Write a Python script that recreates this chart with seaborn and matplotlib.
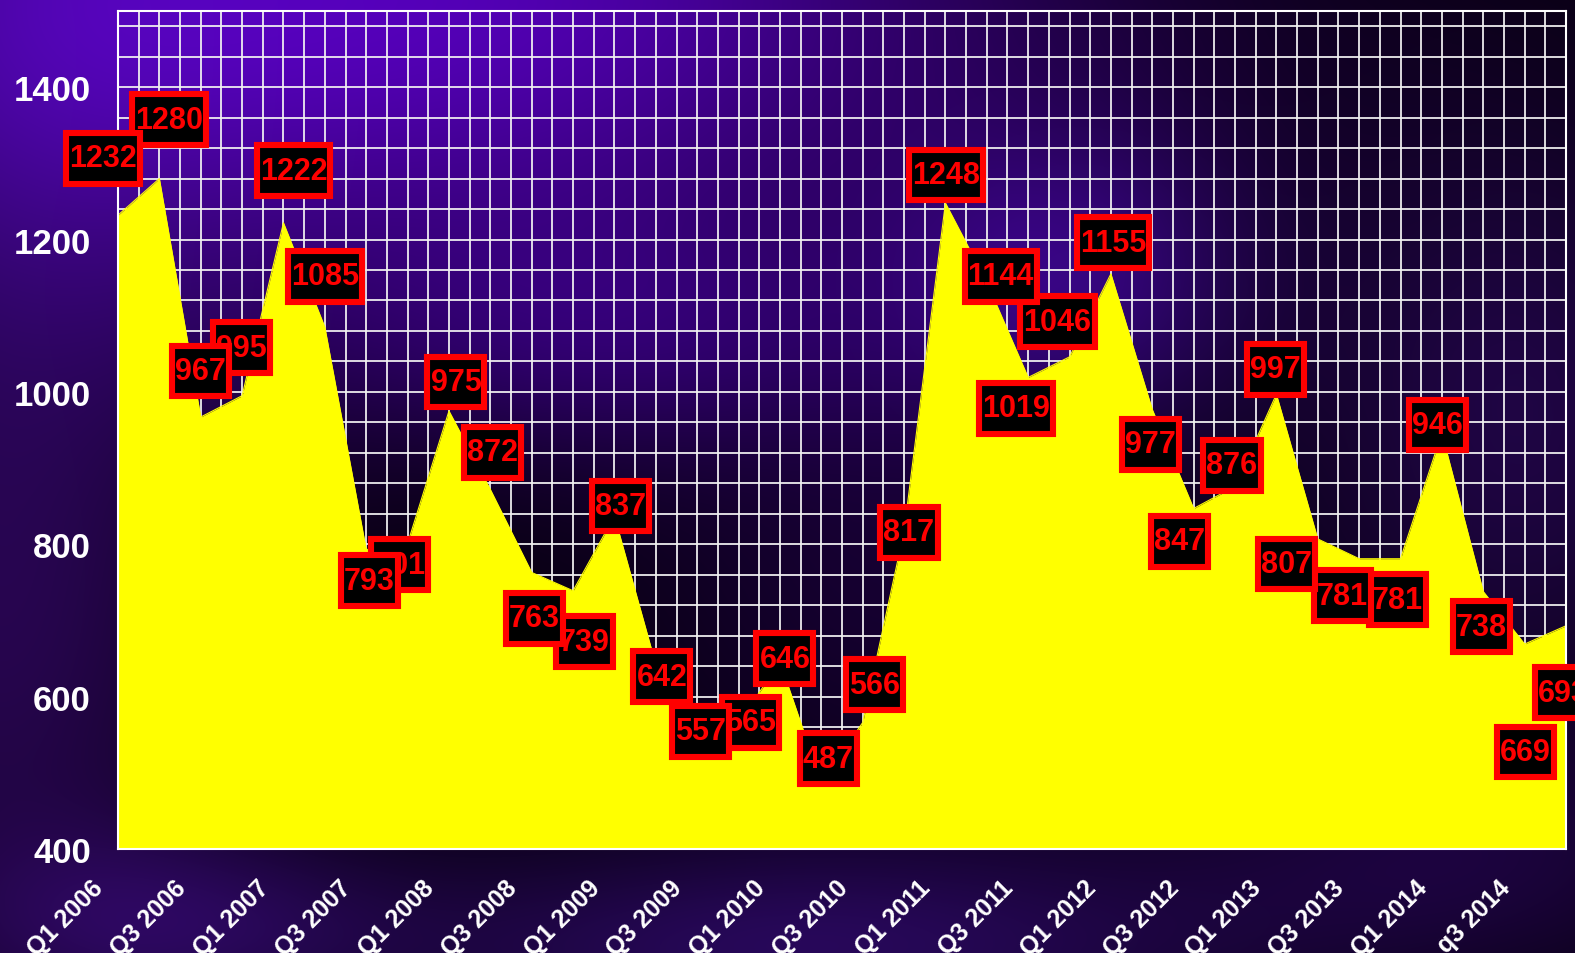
import numpy as np
import matplotlib
matplotlib.use("Agg")
import matplotlib.pyplot as plt
import matplotlib.transforms as mtransforms
from matplotlib.path import Path
import seaborn as sns

# ----- data -----
quarters = ["Q1 2006", "Q2 2006", "Q3 2006", "Q4 2006",
            "Q1 2007", "Q2 2007", "Q3 2007", "Q4 2007",
            "Q1 2008", "Q2 2008", "Q3 2008", "Q4 2008",
            "Q1 2009", "Q2 2009", "Q3 2009", "Q4 2009",
            "Q1 2010", "Q2 2010", "Q3 2010", "Q4 2010",
            "Q1 2011", "Q2 2011", "Q3 2011", "Q4 2011",
            "Q1 2012", "Q2 2012", "Q3 2012", "Q4 2012",
            "Q1 2013", "Q2 2013", "Q3 2013", "Q4 2013",
            "Q1 2014", "Q2 2014", "Q3 2014", "Q4 2014"]
values = [1232, 1280, 967, 995, 1222, 1085, 793, 801,
          975, 872, 763, 739, 837, 642, 557, 565,
          646, 487, 566, 817, 1248, 1144, 1019, 1046,
          1155, 977, 847, 876, 997, 807, 781, 781,
          946, 738, 669, 693]
tick_labels = ["Q1 2006", "Q3 2006", "Q1 2007", "Q3 2007", "Q1 2008", "Q3 2008",
               "Q1 2009", "Q3 2009", "Q1 2010", "Q3 2010", "Q1 2011", "Q3 2011",
               "Q1 2012", "Q3 2012", "Q1 2013", "Q3 2013", "Q1 2014", "q3 2014"]

# data label placement, pixels from the point (right, up) - hand placed as in the original
label_dx = [-15, 10, 0, -1, 10, 0, 3, -8, 7, 2, 3, 11, 6, 6, 3, 12, 5, 7,
            12, 5, 1, 14, -12, -12, 2, -2, -14, -3, -1, -31, -17, -3, -4, -2, 1, -3]
label_dy = [57, 59, 46, 48, 52, 51, -31, -21, 29, 37, -46, -51, 10, -12, -2, 1, 3, 24,
            38, -1, 28, 6, -31, 35, 31, -35, -33, 21, 25, -25, -37, -41, 8, -35, -108, -67]

W, H = 1575, 954
sns.set_style("white")
plt.rcParams["font.family"] = ["Liberation Sans", "DejaVu Sans"]
plt.rcParams["font.weight"] = "bold"

fig = plt.figure(figsize=(W / 100, H / 100), dpi=100)

# ----- purple backdrop -----
yy, xx = np.mgrid[0:H, 0:W]
img = np.ones((H, W, 3)) * np.array([0.02, 0.0, 0.04])
blobs = [  # cx, cy, sx, sy, rgb
    (430, 0, 430, 210, (0.30, 0.00, 0.66)),
    (0, 0, 200, 300, (0.10, 0.02, 0.22)),
    (0, 650, 160, 260, (0.12, 0.02, 0.24)),
    (620, 340, 230, 90, (0.10, 0.00, 0.24)),
    (1070, 280, 130, 110, (0.14, 0.02, 0.34)),
    (1520, 420, 160, 220, (0.10, 0.02, 0.22)),
    (800, 950, 320, 80, (0.13, 0.03, 0.30)),
    (180, 925, 160, 70, (0.10, 0.02, 0.22)),
    (1450, 860, 220, 90, (0.07, 0.01, 0.16)),
    (900, 600, 200, 150, (0.06, 0.00, 0.14)),
]
for cx, cy, sx, sy, col in blobs:
    wgt = np.exp(-(((xx - cx) / sx) ** 2 + ((yy - cy) / sy) ** 2) / 2)
    img += wgt[..., None] * np.array(col)
img = np.clip(img, 0, 1)
bg = fig.add_axes([0, 0, 1, 1])
bg.imshow(img, aspect="auto", interpolation="bilinear")
bg.axis("off")

# ----- main chart -----
ax = fig.add_axes([118 / W, 1 - 850 / H, (1566 - 118) / W, (850 - 12) / H])
ax.set_facecolor("none")
x = np.arange(len(values))

ax.fill_between(x, 400, values, color="#FFFF00", linewidth=0, zorder=2)
sns.lineplot(x=x, y=values, color="#FFFF00", linewidth=0.8, ax=ax, zorder=2)

ax.set_xlim(0, len(values) - 1)
ax.set_ylim(400, 1500)

ax.set_xticks(x)
ax.set_xticklabels([tick_labels[i // 2] if i % 2 == 0 else "" for i in x])
ax.set_xticks(np.arange(0, len(values) - 0.5, 0.5), minor=True)
ax.set_yticks(np.arange(400, 1401, 200))
ax.set_yticks(np.arange(400, 1500, 40), minor=True)

ax.set_axisbelow(True)
ax.grid(which="both", color="#f2f2f2", linewidth=1.4, alpha=0.9, zorder=0)

ax.tick_params(axis="y", which="major", length=9.5, width=1.5, color="white",
               pad=10, labelsize=25, labelcolor="white")
ax.tick_params(axis="x", which="major", length=5, width=1.3, color="#dddddd",
               pad=14, labelsize=18, labelcolor="white")
ax.tick_params(which="minor", length=0)

for lbl in ax.get_xticklabels():
    lbl.set_rotation(45)
    lbl.set_ha("right")
    lbl.set_va("top")
    lbl.set_rotation_mode("anchor")
    lbl.set_fontweight("bold")
    lbl.set_transform(lbl.get_transform() +
                      mtransforms.ScaledTranslation(-27 / 100, 0, fig.dpi_scale_trans))
for lbl in ax.get_yticklabels():
    lbl.set_fontweight("bold")

for side in ["left", "bottom", "top", "right"]:
    ax.spines[side].set_color("white")
    ax.spines[side].set_linewidth(1.5)


def label_box(x0, y0, width, height, mutation_size):
    """Square box with less side padding than top/bottom padding."""
    px, py = 0.10 * mutation_size, 0.34 * mutation_size
    x0, y0 = x0 - px, y0 - py
    x1, y1 = x0 + width + 2 * px, y0 + height + 2 * py
    return Path([(x0, y0), (x1, y0), (x1, y1), (x0, y1), (x0, y0)], closed=True)


# ----- data labels (earlier points drawn on top) -----
for i, v in enumerate(values):
    ax.annotate(str(v), xy=(i, v), xytext=(label_dx[i], label_dy[i]),
                textcoords="offset pixels", ha="center", va="center",
                fontsize=22, fontweight="bold", color="#FF0000",
                bbox=dict(boxstyle=label_box, facecolor="black",
                          edgecolor="#FF0000", linewidth=4.4),
                zorder=100 - i, annotation_clip=False)

fig.savefig("out.png", dpi=100)
